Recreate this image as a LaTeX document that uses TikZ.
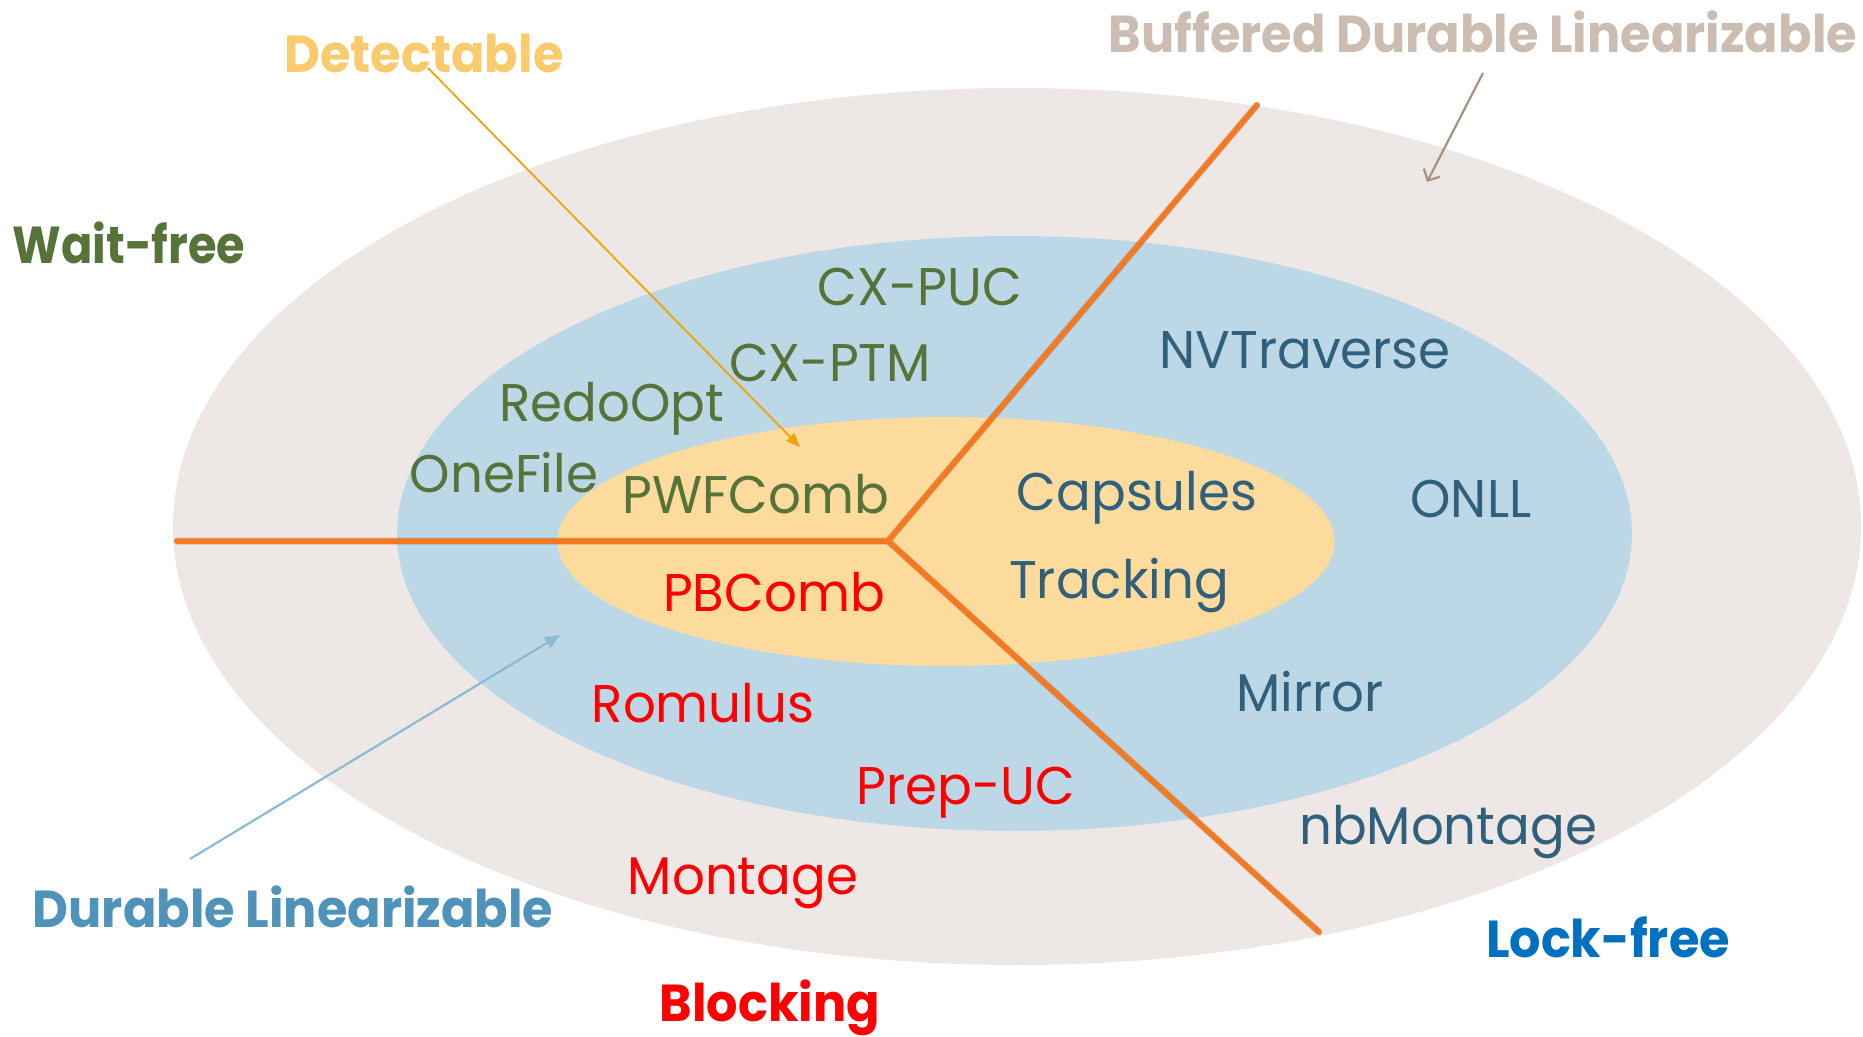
\documentclass[tikz,border=0pt]{standalone}
\usepackage{fontspec}
\setmainfont{Poppins}[FakeStretch=0.97]
\newfontfamily\klassfont{Poppins}[FakeStretch=0.95]
\newfontfamily\narrowklassfont{Poppins}[FakeStretch=0.89]
\usetikzlibrary{arrows.meta,shapes.geometric}

\definecolor{bdlfill}{HTML}{EDE8E6}
\definecolor{dlfill}{HTML}{BCD7E5}
\definecolor{detfill}{HTML}{FCDB9D}
\definecolor{divorange}{HTML}{F47920}
\definecolor{wfgreen}{HTML}{56733A}
\definecolor{lfteal}{HTML}{30607C}
\definecolor{blkred}{HTML}{FF0000}
\definecolor{lfblue}{HTML}{0070C0}
\definecolor{dlblue}{HTML}{4F93BA}
\definecolor{bdltan}{HTML}{CCBDB2}
\definecolor{dettext}{HTML}{FACB6C}
\definecolor{detarrow}{HTML}{F0A30A}
\definecolor{dlarrow}{HTML}{8DBAD3}
\definecolor{bdlarrow}{HTML}{A8917F}

\begin{document}
\begin{tikzpicture}[x=1pt,y=-1pt,
  region/.style={ellipse, draw=none, inner sep=0pt},
  algo/.style={font=\fontsize{53}{60}\selectfont, inner sep=0pt, anchor=base},
  klass/.style={font=\klassfont\fontsize{52}{60}\selectfont\bfseries, inner sep=0pt, anchor=base},
  divider/.style={line width=5.5pt, draw=divorange, line cap=round},
  divshadow/.style={line width=7pt, draw=black, opacity=0.16, line cap=round},
]
\useasboundingbox (0,0) rectangle (1863,1036);
\fill[white] (0,0) rectangle (1863,1036);

% nested correctness conditions
\node[region, fill=bdlfill, minimum width=1688pt, minimum height=877pt] (bdl) at (1017,526.5) {};
\node[region, fill=dlfill, minimum width=1235pt, minimum height=595pt] (dl) at (1014.5,533.5) {};
\node[region, fill=detfill, minimum width=777pt, minimum height=249pt] (det) at (946,541.5) {};

% progress-guarantee dividers
\coordinate (hub) at (888,541);
\coordinate (wend) at (177,541);
\coordinate (nend) at (1257,105);
\coordinate (send) at (1319,932);
\begin{scope}[shift={(2.5,4)}]
  \draw[divshadow] (wend) -- (hub) -- (nend);
  \draw[divshadow] (hub) -- (send);
\end{scope}
\draw[divider, line join=miter] (wend) -- (hub) -- (nend);
\draw[divider] (hub) -- (send);

% algorithms
\node[algo, text=wfgreen] (cxpuc) at (920,305) {CX-PUC};
\node[algo, text=wfgreen] (cxptm) at (830,381) {CX-PTM};
\node[algo, text=wfgreen] (redo) at (612,421) {RedoOpt};
\node[algo, text=wfgreen] (onefile) at (504,492) {OneFile};
\node[algo, text=wfgreen] (pwf) at (756,513) {PWFComb};
\node[algo, text=lfteal] (nvt) at (1305,368) {NVTraverse};
\node[algo, text=lfteal] (caps) at (1137,510) {Capsules};
\node[algo, text=lfteal] (onll) at (1471,517) {ONLL};
\node[algo, text=lfteal] (track) at (1119,598) {Tracking};
\node[algo, text=lfteal] (mirror) at (1310,711) {Mirror};
\node[algo, text=lfteal] (nbm) at (1448,844) {nbMontage};
\node[algo, text=blkred] (pbc) at (774,611) {PBComb};
\node[algo, text=blkred] (rom) at (703,722) {Romulus};
\node[algo, text=blkred] (prep) at (966,804) {Prep-UC};
\node[algo, text=blkred] (mont) at (743,894) {Montage};

% class labels
\node[klass, text=dettext] (detlbl) at (424,72) {Detectable};
\node[klass, font=\narrowklassfont\fontsize{52}{60}\selectfont\bfseries, text=wfgreen] (wflbl) at (129,263) {Wait-free};
\node[klass, text=bdltan] (bdllbl) at (1483,52) {Buffered Durable Linearizable};
\node[klass, text=dlblue] (dllbl) at (293,927) {Durable Linearizable};
\node[klass, text=blkred] (blklbl) at (770,1021) {Blocking};
\node[klass, text=lfblue] (lflbl) at (1608,957) {Lock-free};

% pointers from labels into their regions
\coordinate (dettail) at (428,68);
\coordinate (dettip) at (800,447);
\coordinate (dltail) at (190,859);
\coordinate (dltip) at (560,635);
\coordinate (bdltail) at (1483,73);
\coordinate (bdltip) at (1427,182);
\draw[detarrow, line width=1.8pt, -{Triangle[length=14pt,width=11pt]}] (dettail) -- (dettip);
\draw[dlarrow, line width=2.2pt, -{Triangle[length=15pt,width=12pt]}] (dltail) -- (dltip);
\draw[bdlarrow, line width=2.2pt, -{Straight Barb[length=9pt,width=18pt]}] (bdltail) -- (bdltip);
\end{tikzpicture}
\end{document}
